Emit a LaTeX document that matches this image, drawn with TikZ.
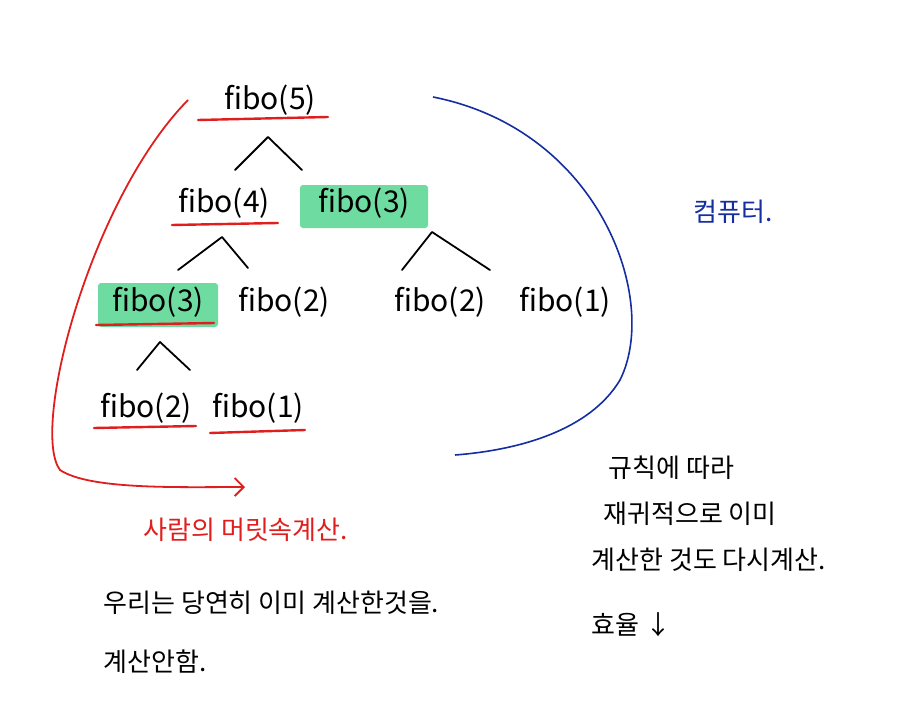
\documentclass[tikz,border=0pt]{standalone}
\usepackage{fontspec}
\setmainfont{Noto Sans CJK KR}
\usetikzlibrary{arrows.meta}
\definecolor{penred}{RGB}{225,30,30}
\definecolor{penblue}{RGB}{20,45,160}
\definecolor{marker}{RGB}{110,220,160}

\tikzset{
  fibo/.style={font=\fontsize{30}{32}\selectfont, inner sep=1pt},
  note/.style={font=\fontsize{26}{28}\selectfont, anchor=west},
  uline/.style={penred, line width=2.4pt, line cap=round},
  branch/.style={line width=1.8pt, line cap=round, line join=round},
}

\begin{document}
\begin{tikzpicture}[x=1pt, y=-1pt]
  \useasboundingbox (0,0) rectangle (905,701);

  % green highlights
  \fill[marker, rounded corners=3pt] (300,185) rectangle (428,228);
  \fill[marker, rounded corners=3pt] (98,283) rectangle (218,327);

  % tree
  \node[fibo] (f5)  at (270,100) {fibo(5)};
  \node[fibo] (f4)  at (224,203) {fibo(4)};
  \node[fibo] (f3a) at (364,203) {fibo(3)};
  \node[fibo] (f3b) at (158,302) {fibo(3)};
  \node[fibo] (f2a) at (284,302) {fibo(2)};
  \node[fibo] (f2b) at (440,302) {fibo(2)};
  \node[fibo] (f1a) at (565,302) {fibo(1)};
  \node[fibo] (f2c) at (146,408) {fibo(2)};
  \node[fibo] (f1b) at (258,408) {fibo(1)};

  % underlines
  \draw[uline] (198,120) -- (328,117);
  \draw[uline] (172,225) -- (278,223);
  \draw[uline] (96,325) -- (214,323);
  \draw[uline] (94,428) -- (196,426);
  \draw[uline] (210,433) -- (305,430);

  % branches
  \draw[branch] (235,170) -- (268,137) -- (302,170);
  \draw[branch] (178,270) -- (222,237) -- (248,268);
  \draw[branch] (402,270) -- (432,232) -- (490,270);
  \draw[branch] (137,370) -- (160,342) -- (190,370);

  % human path
  \coordinate (hstart) at (188,100);
  \coordinate (hend) at (245,487);
  \draw[penred, line width=1.8pt, -{Straight Barb[length=9pt]}]
    (hstart) .. controls (90,200) and (30,430) .. (60,470)
    .. controls (90,490) and (180,487) .. (hend);

  % computer path
  \coordinate (cstart) at (433,97);
  \coordinate (cend) at (455,455);
  \draw[penblue, line width=1.6pt]
    (cstart) .. controls (600,130) and (660,300) .. (620,380)
    .. controls (590,430) and (520,450) .. (cend);

  % notes
  \node[note, penblue] (comp)  at (690,212) {컴퓨터.};
  \node[note, penred]  (human) at (140,530) {사람의 머릿속계산.};
  \node[note] (we1) at (100,603) {우리는 당연히 이미 계산한것을.};
  \node[note] (we2) at (100,662) {계산안함.};
  \node[note] (ru1) at (605,468) {규칙에 따라};
  \node[note] (ru2) at (600,514) {재귀적으로 이미};
  \node[note] (ru3) at (588,560) {계산한 것도 다시계산.};
  \node[note] (eff) at (588,625) {효율 ↓};
\end{tikzpicture}
\end{document}
